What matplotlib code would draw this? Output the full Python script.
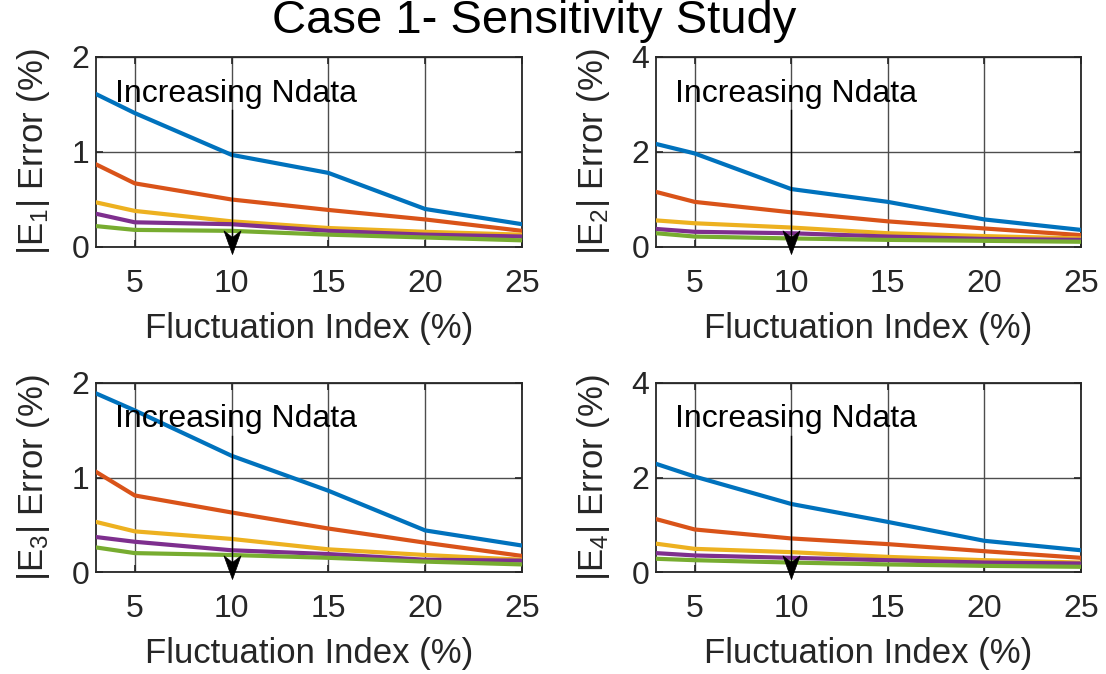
import matplotlib
matplotlib.use("Agg")
import matplotlib.pyplot as plt
from matplotlib.path import Path

plt.rcParams['font.family'] = ['Liberation Sans', 'DejaVu Sans']
plt.rcParams['mathtext.fontset'] = 'custom'
plt.rcParams['mathtext.rm'] = 'Liberation Sans'
plt.rcParams['mathtext.it'] = 'Liberation Sans'

fluct = [3, 5, 10, 15, 20, 25]
xticks = [5, 10, 15, 20, 25]

# E1 error (%) per Ndata level (low -> high)
e1 = [
    [1.61, 1.41, 0.97, 0.78, 0.40, 0.24],
    [0.87, 0.67, 0.50, 0.39, 0.29, 0.17],
    [0.47, 0.38, 0.27, 0.20, 0.16, 0.13],
    [0.35, 0.26, 0.24, 0.17, 0.13, 0.11],
    [0.22, 0.18, 0.17, 0.13, 0.10, 0.07],
]
e2 = [
    [2.17, 1.97, 1.22, 0.95, 0.58, 0.36],
    [1.16, 0.95, 0.73, 0.54, 0.39, 0.25],
    [0.56, 0.50, 0.41, 0.29, 0.23, 0.18],
    [0.38, 0.32, 0.29, 0.22, 0.17, 0.15],
    [0.29, 0.22, 0.18, 0.15, 0.13, 0.11],
]
e3 = [
    [1.89, 1.71, 1.23, 0.86, 0.44, 0.28],
    [1.06, 0.81, 0.63, 0.46, 0.31, 0.17],
    [0.53, 0.43, 0.35, 0.24, 0.18, 0.13],
    [0.37, 0.32, 0.23, 0.19, 0.13, 0.12],
    [0.26, 0.20, 0.18, 0.15, 0.11, 0.08],
]
e4 = [
    [2.29, 2.02, 1.44, 1.06, 0.66, 0.46],
    [1.12, 0.90, 0.71, 0.59, 0.44, 0.30],
    [0.60, 0.49, 0.42, 0.32, 0.25, 0.20],
    [0.40, 0.35, 0.30, 0.25, 0.20, 0.18],
    [0.28, 0.25, 0.20, 0.16, 0.13, 0.11],
]
datasets = [e1, e2, e3, e4]
ylabels = ['|E$_1$| Error (%)', '|E$_2$| Error (%)', '|E$_3$| Error (%)', '|E$_4$| Error (%)']
ymax = [2, 4, 2, 4]
yticks = [[0, 1, 2], [0, 2, 4], [0, 1, 2], [0, 2, 4]]

colors = ['#0072BD', '#D95319', '#EDB120', '#7E2F8E', '#77AC30']

# concave ("vback") arrowhead marker, tip at origin pointing down
head = Path([(0, 0), (0.36, 1.0), (0, 0.72), (-0.36, 1.0), (0, 0)],
            [Path.MOVETO, Path.LINETO, Path.LINETO, Path.LINETO, Path.CLOSEPOLY])

W, H = 1106, 674
fig = plt.figure(figsize=(W / 100, H / 100), dpi=100)

boxes = [(96, 57, 522, 247), (656, 57, 1081, 247),
         (96, 383, 522, 572), (656, 383, 1081, 572)]

tfs = 23
lfs = 25
for i, (l, t, r, b) in enumerate(boxes):
    ax = fig.add_axes([l / W, 1 - b / H, (r - l) / W, (b - t) / H])
    for k, ser in enumerate(datasets[i]):
        ax.plot(fluct, ser, color=colors[k], lw=3.0, solid_joinstyle='miter', zorder=3)
    ax.set_xlim(3, 25)
    ax.set_ylim(0, ymax[i])
    ax.set_xticks(xticks)
    ax.set_yticks(yticks[i])
    ax.grid(True, color='#4d4d4d', lw=1.0)
    ax.set_axisbelow(True)
    ax.tick_params(direction='in', length=5, width=1.2, labelsize=tfs,
                   colors='#262626', top=True, right=True)
    ax.tick_params(axis='x', pad=16)
    ax.tick_params(axis='y', pad=5)
    for s in ax.spines.values():
        s.set_color('#262626')
        s.set_linewidth(1.3)
    ax.set_xlabel('Fluctuation Index (%)', fontsize=lfs, color='#262626', labelpad=9)
    ax.set_ylabel(ylabels[i], fontsize=lfs, color='#262626', labelpad=14)
    ym = ymax[i]
    ax.text(4.0, 0.765 * ym, 'Increasing Ndata', fontsize=tfs, va='baseline',
            ha='left', color='black', zorder=5)
    tip = -0.035 * ym
    ax.plot([10, 10], [0.72 * ym, tip + 0.06 * ym], color='black', lw=1.0,
            clip_on=False, zorder=6)
    ax.plot([10], [tip], marker=head, markersize=34, color='black', mec='black',
            mew=0.5, linestyle='none', clip_on=False, zorder=7)

fig.text(534 / W, 1 - 21 / H, 'Case 1- Sensitivity Study', fontsize=34,
         ha='center', va='center', color='black')

fig.savefig('out.png', dpi=100)
